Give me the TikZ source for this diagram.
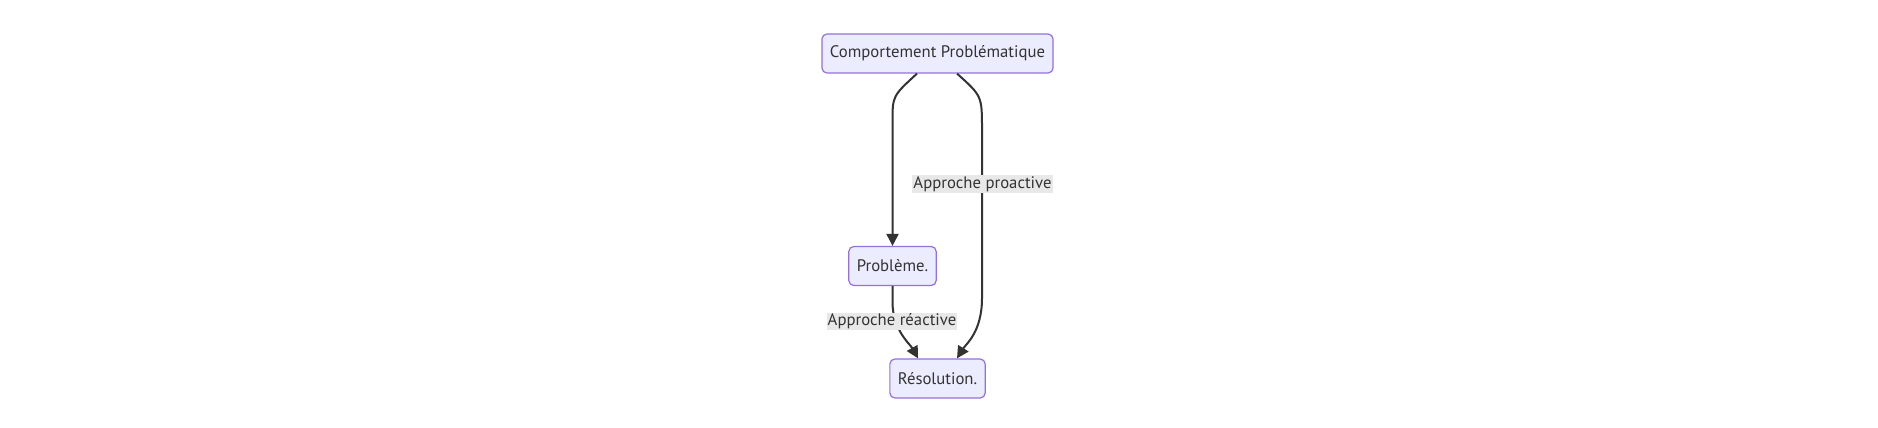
\documentclass[tikz,border=0pt]{standalone}
\usepackage{fontspec}
\setmainfont{PT Sans}
\usetikzlibrary{arrows.meta}
\definecolor{boxfill}{HTML}{ECECFF}
\definecolor{boxline}{HTML}{9370DB}
\definecolor{edgeline}{HTML}{333333}
\definecolor{labelfill}{HTML}{E8E8E8}
\tikzset{
  box/.style = {draw = boxline, fill = boxfill, rounded corners = 5pt, line width = 1.2pt,
    minimum height = 39pt, inner xsep = 8pt, text = edgeline, font = \fontsize{16.7}{20}\selectfont},
  edge/.style = {draw = edgeline, line width = 2pt, -{Triangle[length = 12pt, width = 12pt]}},
  elabel/.style = {fill = labelfill, inner sep = 1pt, text = edgeline, font = \fontsize{16.7}{20}\selectfont}
}
\begin{document}
\begin{tikzpicture}[x = 1pt, y = -1pt]
\useasboundingbox (0, 0) rectangle (1878, 428);
\node (comp) at (937.5, 53.5) [box] {Comportement Problématique};
\node (prob) at (892.5, 266) [box] {Problème.};
\node (res) at (937.5, 378.5) [box] {Résolution.};
\draw [edge] ([xshift = -20.5pt]comp.south) .. controls (892.5, 96) and (892.5, 96) .. (892.5, 122)
  -- (prob.north);
\draw [edge] ([xshift = 19.5pt]comp.south) .. controls (982, 96) and (982, 96) .. (982, 130)
  -- (982, 298) .. controls (982, 332) and (966, 344) .. ([xshift = 19.5pt]res.north);
\draw [edge] (prob.south) -- (892.5, 302) .. controls (892.5, 330) and (910, 344) .. ([xshift = -19.5pt]res.north);
\node (pro) at (982.5, 184) [elabel] {Approche proactive};
\node (rea) at (892, 321.5) [elabel] {Approche réactive};
\end{tikzpicture}
\end{document}
